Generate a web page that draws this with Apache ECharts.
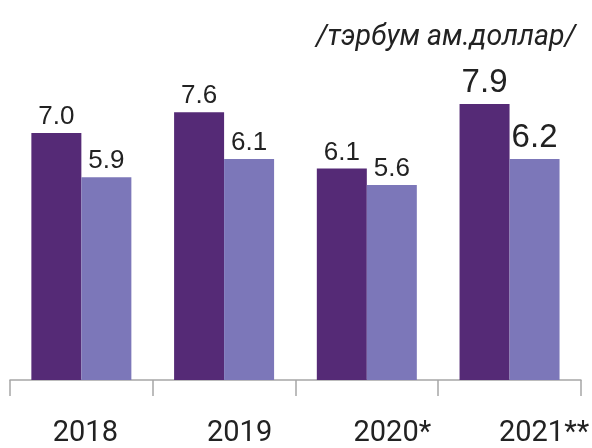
<!DOCTYPE html>
<html>
<head>
<meta charset="utf-8">
<script src="https://cdn.jsdelivr.net/npm/echarts@6/dist/echarts.min.js"></script>
<style>
  html, body { margin: 0; padding: 0; background: #fff; }
  #main { width: 592px; height: 448px; }
</style>
</head>
<body>
<div id="main"></div>
<script>
// өгөгдөл
let years = ['2018', '2019', '2020*', '2021**']
// баганын өндөр (зургаас уншсан)
let series1 = [7.02, 7.61, 6.01, 7.84]
let series2 = [5.76, 6.28, 5.54, 6.28]
// баганын дээрх шошго
let labels1 = ['7.0', '7.6', '6.1', '7.9']
let labels2 = ['5.9', '6.1', '5.6', '6.2']

// сүүлийн оны шошго томоор
function toData(arr) {
    return arr.map(function (v, i) {
        let item = { value: v }
        if (i === arr.length - 1) {
            item.label = { fontSize: 33, distance: 5 }
        }
        return item
    })
}

function labelStyle(labels) {
    return {
        show: true,
        position: 'top',
        distance: 3,
        color: '#222',
        fontSize: 26,
        fontFamily: 'Liberation Sans',
        formatter: function (p) { return labels[p.dataIndex] }
    }
}

// оны шошгыг баруун тийш бага зэрэг шилжүүлэх
let shifts = [8, 31, 51, 69]
let rich = {}
shifts.forEach(function (s, i) {
    rich['c' + i] = {
        fontSize: 29,
        color: '#222',
        fontFamily: 'Roboto',
        padding: [0, 0, 0, s]
    }
})

let myChart = echarts.init(document.getElementById('main'))
myChart.setOption({
    animation: false,
    title: {
        text: '/тэрбум ам.доллар/',
        right: 11,
        top: 18,
        textStyle: {
            fontFamily: 'Roboto',
            fontStyle: 'italic',
            fontWeight: 'normal',
            fontSize: 28.5,
            color: '#222'
        }
    },
    grid: { left: 10, right: 10, top: 28, bottom: 64 },
    xAxis: {
        type: 'category',
        data: years,
        axisLine: { lineStyle: { color: '#a6a6a6', width: 1.5 } },
        axisTick: { show: true, length: 16, lineStyle: { color: '#a6a6a6', width: 1.5 } },
        axisLabel: {
            interval: 0,
            margin: 39,
            formatter: function (v, i) { return '{c' + i + '|' + v + '}' },
            rich: rich
        }
    },
    yAxis: {
        type: 'value',
        min: 0,
        max: 10,
        show: false,
        splitLine: { show: false }
    },
    series: [{
        type: 'bar',
        data: toData(series1),
        barWidth: 50,
        barGap: '0%',
        itemStyle: { color: '#552a76' },
        label: labelStyle(labels1)
    }, {
        type: 'bar',
        data: toData(series2),
        barWidth: 50,
        itemStyle: { color: '#7c77b9' },
        label: labelStyle(labels2)
    }]
})
</script>
</body>
</html>
